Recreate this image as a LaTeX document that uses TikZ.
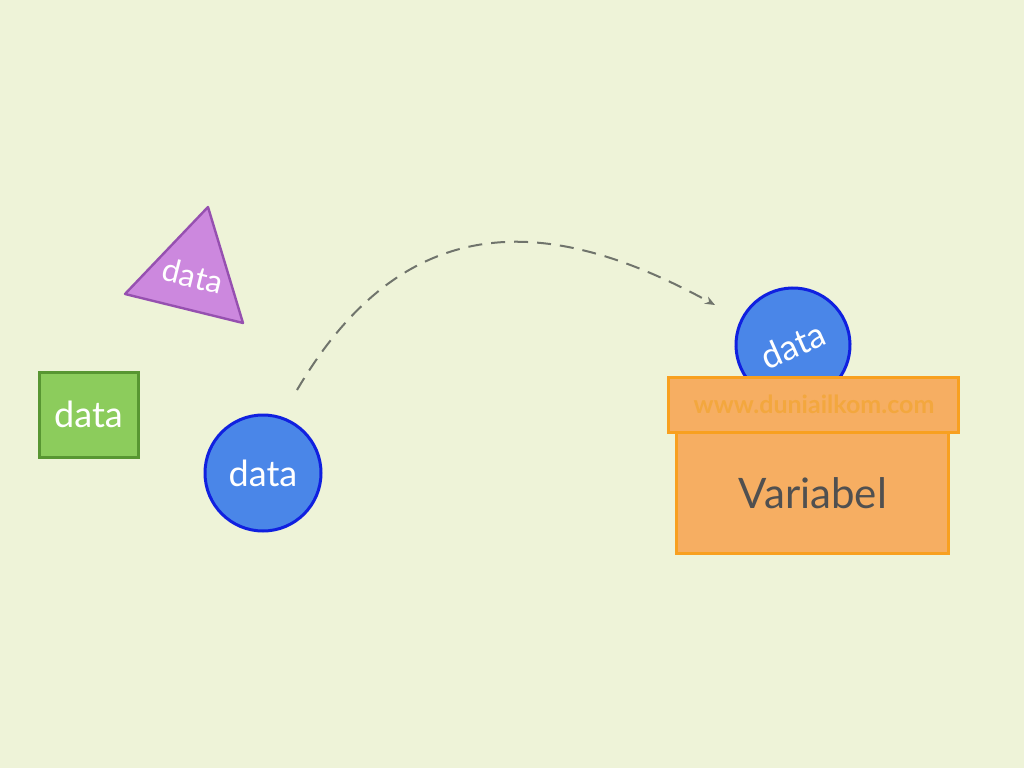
\documentclass[tikz,border=0pt]{standalone}
\usepackage{fontspec}
\setmainfont{Lato}
\usepackage{tikz}
\usetikzlibrary{arrows.meta}

\definecolor{bg}{RGB}{238,243,216}
\definecolor{sqfill}{RGB}{140,204,92}
\definecolor{sqline}{RGB}{88,150,50}
\definecolor{trifill}{RGB}{204,136,222}
\definecolor{triline}{RGB}{150,80,176}
\definecolor{circfill}{RGB}{74,134,232}
\definecolor{circline}{RGB}{16,32,224}
\definecolor{boxfill}{RGB}{246,174,98}
\definecolor{boxline}{RGB}{248,160,32}
\definecolor{wwwcol}{RGB}{243,167,62}
\definecolor{arcline}{RGB}{112,116,108}
\definecolor{vargray}{RGB}{80,80,80}

\begin{document}
\begin{tikzpicture}[x=0.5pt,y=0.5pt]
		% background
		\fill [bg] (0,0) rectangle (1024,768);
		\useasboundingbox (0,0) rectangle (1024,768);

		% square
		\draw [sqline,fill=sqfill,line width=1.5pt] (39,311) rectangle (138,396);
		\node [text=white,font=\fontsize{18}{21}\selectfont] (sq) at (88.5,353.5) {data};

		% triangle
		\coordinate (t1) at (208,561);
		\coordinate (t2) at (125,474);
		\coordinate (t3) at (243,445);
		\draw [triline,fill=trifill,line width=1.2pt,line join=round] (t1) -- (t2) -- (t3) -- cycle;
		\node [text=white,rotate=-14,font=\fontsize{16}{19}\selectfont] (tri) at (193,492) {data};

		% circle left
		\node [circle,draw=circline,fill=circfill,line width=1.5pt,minimum size=58pt,inner sep=0pt,
			text=white,font=\fontsize{18}{21}\selectfont] (c1) at (263,295) {data};

		% circle right
		\node [circle,draw=circline,fill=circfill,line width=1.5pt,minimum size=57pt,inner sep=0pt,
			text=white,rotate=24,font=\fontsize{17.5}{21}\selectfont] (c2) at (793,423) {data};

		% box
		\draw [boxline,fill=boxfill,line width=1.5pt] (676,215) rectangle (948,336);
		\node [vargray,font=\fontsize{21}{25}\selectfont] (var) at (813,275) {Variabel};
		\draw [boxline,fill=boxfill,line width=1.5pt] (668,336) rectangle (958,391);
		\node [wwwcol,font=\bfseries\fontsize{12.5}{15}\selectfont] (www) at (814,364) {www.duniailkom.com};

		% arc
		\coordinate (a0) at (297,378);
		\coordinate (a1) at (715,463);
		\draw [arcline,line width=1pt,dash pattern=on 7pt off 4.5pt,-{Stealth[length=5pt,width=4pt]}]
			(a0) .. controls (410,570) and (560,548) .. (a1);

  \end{tikzpicture}
\end{document}
